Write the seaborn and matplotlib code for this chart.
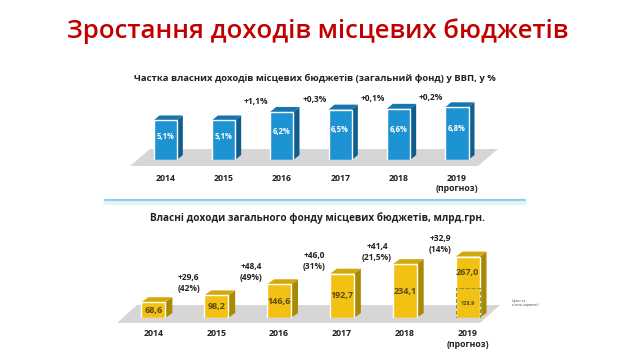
import matplotlib
matplotlib.use('Agg')
import matplotlib.pyplot as plt
from matplotlib.patches import Polygon
import seaborn as sns
import pandas as pd

years = ['2014', '2015', '2016', '2017', '2018', '2019\n(прогноз)']
share_gdp = [5.1, 5.1, 6.2, 6.5, 6.6, 6.8]
share_labels = ['5,1%', '5,1%', '6,2%', '6,5%', '6,6%', '6,8%']
share_delta = ['', '', '+1,1%', '+0,3%', '+0,1%', '+0,2%']
revenue = [68.6, 98.2, 146.6, 192.7, 234.1, 267.0]
revenue_labels = ['68,6', '98,2', '146,6', '192,7', '234,1', '267,0']
revenue_delta = ['', '+29,6\n(42%)', '+48,4\n(49%)', '+46,0\n(31%)', '+41,4\n(21,5%)', '+32,9\n(14%)']
h1_year = ['2019\n(прогноз)']
h1_value = [128.9]

sns.set_theme(style='white')
plt.rcParams['font.family'] = ['Open Sans', 'DejaVu Sans']

W, H = 638, 359
fig = plt.figure(figsize=(W / 100, H / 100), dpi=100)
fig.patch.set_facecolor('white')


def px(x, y):
    return (x / W, 1 - y / H)


def axes_rect(left, top, right, bottom):
    return [left / W, 1 - bottom / H, (right - left) / W, (bottom - top) / H]


def floor(pts):
    poly = Polygon([px(x, y) for x, y in pts], closed=True, transform=fig.transFigure,
                   facecolor='#d6d6d6', edgecolor='none', zorder=-1)
    fig.patches.append(poly)


def boxes(ax, side, topc, dpx=6, dpy=5):
    bb = ax.get_window_extent()
    x0, x1 = ax.get_xlim()
    y0, y1 = ax.get_ylim()
    dx = dpx * (x1 - x0) / bb.width
    dy = dpy * (y1 - y0) / bb.height
    for p in list(ax.patches):
        x, w, h = p.get_x(), p.get_width(), p.get_height()
        ax.add_patch(Polygon([(x + w, 0), (x + w + dx, dy), (x + w + dx, h + dy), (x + w, h)],
                             facecolor=side, edgecolor='none', clip_on=False, zorder=1))
        ax.add_patch(Polygon([(x, h), (x + dx, h + dy), (x + w + dx, h + dy), (x + w, h)],
                             facecolor=topc, edgecolor='none', clip_on=False, zorder=1))


# title
fig.text(*px(318, 31), 'Зростання доходів місцевих бюджетів', ha='center', va='center',
         fontsize=18.5, fontweight='semibold', color='#c00000')

# ---------- top chart ----------
floor([(130, 166), (478, 166), (498, 149), (150, 149)])
ax1 = fig.add_axes(axes_rect(136, 98, 486, 160))
df1 = pd.DataFrame({'year': years, 'share': share_gdp})
sns.barplot(data=df1, x='year', y='share', color='#1e93d3', saturation=1, width=0.4, ax=ax1, zorder=2)
ax1.set_xlim(-0.5, 5.5)
ax1.set_ylim(0, 8)
boxes(ax1, '#0e5f8e', '#1776ad')
for i, (v, lab, d) in enumerate(zip(share_gdp, share_labels, share_delta)):
    ax1.text(i, v * 0.6, lab, ha='center', va='center', color='white', fontsize=5.5, fontweight='bold', zorder=3)
    if d:
        ax1.annotate(d, (i - 0.44, v), xytext=(0, 4), textcoords='offset points', ha='center', va='bottom',
                     fontsize=6, fontweight='bold', color='#222222')
ax1.set_xlabel('')
ax1.set_ylabel('')
ax1.set_yticks([])
ax1.tick_params(axis='x', length=0, pad=10, labelsize=6.3)
for t in ax1.get_xticklabels():
    t.set_fontweight('bold')
    t.set_color('#222222')
ax1.patch.set_visible(False)
for s in ax1.spines.values():
    s.set_visible(False)
fig.text(*px(315, 78), 'Частка власних доходів місцевих бюджетів (загальний фонд) у ВВП, у %',
         ha='center', va='center', fontsize=6.8, fontweight='bold', color='#222222')

# divider
fig.add_artist(plt.Line2D([105 / W, 525 / W], [1 - 200 / H] * 2, color='#8fcbe6', lw=1.5))
fig.add_artist(plt.Line2D([105 / W, 525 / W], [1 - 202.5 / H] * 2, color='#e3f3fa', lw=3))

# ---------- bottom chart ----------
floor([(117, 323), (480, 323), (500, 305), (137, 305)])
ax2 = fig.add_axes(axes_rect(122, 249, 499, 318))
df2 = pd.DataFrame({'year': years, 'revenue': revenue})
sns.barplot(data=df2, x='year', y='revenue', color='#f2c114', saturation=1, width=0.38, ax=ax2, zorder=2)
ax2.set_xlim(-0.5, 5.5)
ax2.set_ylim(0, 300)
boxes(ax2, '#a88a05', '#d3a80a', dpx=7, dpy=5)
df3 = pd.DataFrame({'year': h1_year, 'revenue': h1_value})
sns.barplot(data=df3, x='year', y='revenue', order=years, fill=False, width=0.38, ax=ax2,
            linestyle='--', linewidth=0.8, edgecolor='#7f9a3a', zorder=3)
for i, (v, lab, d) in enumerate(zip(revenue, revenue_labels, revenue_delta)):
    yy = v / 2 if i < 5 else (v + h1_value[0]) / 2
    ax2.text(i, yy, lab, ha='center', va='center', color='#5c4c10', fontsize=6.5, fontweight='bold', zorder=4)
    if d:
        ax2.annotate(d, (i - 0.44, v), xytext=(0, 9), textcoords='offset points', ha='center', va='center',
                     fontsize=6, fontweight='bold', color='#222222', linespacing=1.3)
ax2.text(5, h1_value[0] / 2, '128,9', ha='center', va='center', color='#5c4c10', fontsize=4, fontweight='bold', zorder=4)
ax2.set_xlabel('')
ax2.set_ylabel('')
ax2.set_yticks([])
ax2.tick_params(axis='x', length=0, pad=8, labelsize=6.3)
for t in ax2.get_xticklabels():
    t.set_fontweight('bold')
    t.set_color('#222222')
ax2.patch.set_visible(False)
for s in ax2.spines.values():
    s.set_visible(False)
fig.text(*px(318, 218), 'Власні доходи загального фонду місцевих бюджетів, млрд.грн.',
         ha='center', va='center', fontsize=7.2, fontweight='bold', color='#222222')
fig.text(*px(512, 303), '(факт за\nсічень-червень)', ha='left', va='center', fontsize=2.5, color='#444444')

fig.savefig('out.png', dpi=100, facecolor='white')
